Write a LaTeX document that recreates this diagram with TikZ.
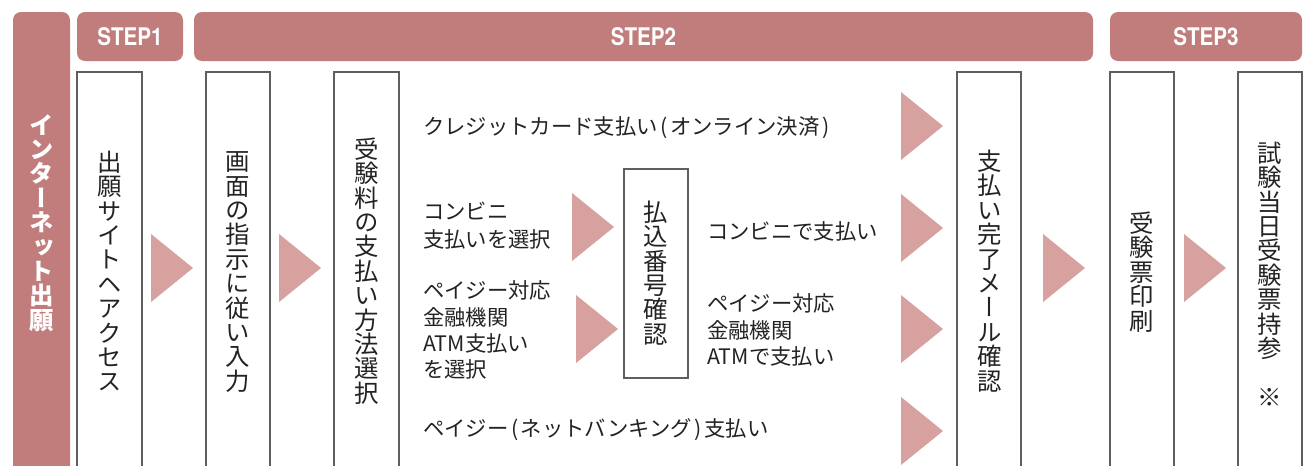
\documentclass[tikz,border=0pt]{standalone}
\usepackage{fontspec}
\newfontfamily\jp{Noto Sans CJK JP}
\newfontfamily\jpv[RawFeature=+vert]{Noto Sans CJK JP}
\newfontfamily\stepfnt[FakeStretch=0.85]{TeX Gyre Heros}
\definecolor{hdr}{RGB}{193,125,124}
\definecolor{tricol}{RGB}{214,161,159}
\definecolor{ink}{RGB}{35,35,35}
\definecolor{edge}{RGB}{95,95,95}
\newcommand\tri[2]{\fill[arrowtri] (#1,#2-34) -- (#1+42,#2) -- (#1,#2+34) -- cycle;}
\newcommand\lp{\hspace{0.12em}(\hspace{0.12em}}
\newcommand\rp{\hspace{0.12em})\hspace{0.12em}}
\begin{document}
\begin{tikzpicture}[x=0.75pt,y=-0.75pt,
  hdrbox/.style={fill=hdr, rounded corners=6pt},
  colbox/.style={draw=edge, line width=0.8pt, fill=white},
  arrowtri/.style={fill=tricol},
  vtext/.style={text=ink, font=\jpv\fontsize{18.3}{18.3}\selectfont, align=center, inner sep=0pt},
  vwhite/.style={text=white, font=\jpv\bfseries\fontsize{18.3}{18.3}\selectfont, align=center, inner sep=0pt},
  htext/.style={text=ink, anchor=west, inner sep=0pt, align=left, font=\jp\fontsize{16}{21}\selectfont},
  htextb/.style={htext, font=\jp\fontsize{16}{19.6}\selectfont},
  steptext/.style={text=white, font=\stepfnt\bfseries\fontsize{18.2}{20}\selectfont, inner sep=0pt}
]
\useasboundingbox (0,0) rectangle (1303,465);
\clip (0,0) rectangle (1303,465);
\fill[white] (0,0) rectangle (1303,465);

% left bar
\fill[hdr, rounded corners=6pt] (13,490) -- (13,12) -- (70,12) -- (70,490) -- cycle;
\node[vwhite] (inet) at (41.5,223) {イ\\ン\\タ\\ー\\ネ\\ッ\\ト\\出\\願};

% headers
\path[hdrbox] (77,12) rectangle (183,61);
\path[hdrbox] (194,12) rectangle (1093,61);
\path[hdrbox] (1110,12) rectangle (1302,61);
\node[steptext] (s1) at (130,36.5) {STEP1};
\node[steptext] (s2) at (643.5,36.5) {STEP2};
\node[steptext] (s3) at (1206,36.5) {STEP3};

% columns
\draw[colbox] (77,72) rectangle (142,490);
\draw[colbox] (206,72) rectangle (270,490);
\draw[colbox] (334,72) rectangle (399,490);
\draw[colbox] (957,72) rectangle (1021,490);
\draw[colbox] (1110,72) rectangle (1174,490);
\draw[colbox] (1238,72) rectangle (1302,490);
\draw[colbox] (624,169) rectangle (688,378);

\node[vtext] (c1) at (110,271) {出\\願\\サ\\イ\\ト\\ヘ\\ア\\ク\\セ\\ス};
\node[vtext] (c2) at (238,272) {画\\面\\の\\指\\示\\に\\従\\い\\入\\力};
\node[vtext] (c3) at (366.5,271) {受\\験\\料\\の\\支\\払\\い\\方\\法\\選\\択};
\node[vtext] (pay) at (656,273) {払\\込\\番\\号\\確\\認};
\node[vtext] (c4) at (989.5,271) {支\\払\\い\\完\\了\\メ\\ー\\ル\\確\\認};
\node[vtext] (c5) at (1142,272) {受\\験\\票\\印\\刷};
\node[vtext] (c6) at (1270,274) {試\\験\\当\\日\\受\\験\\票\\持\\参\\　\\※};

% horizontal texts
\node[htext] (credit) at (423,128) {クレジットカード支払い\lp オンライン決済\rp};
\node[htext] (conv) at (423,226) {コンビニ\\支払いを選択};
\node[htextb] (payeasyatm) at (423,330) {ペイジー対応\\金融機関\\ATM支払い\\を選択};
\node[htext] (net) at (423,430) {ペイジー\lp ネットバンキング\rp 支払い};
\node[htext] (convpay) at (707,231) {コンビニで支払い};
\node[htextb] (atmpay) at (707,330) {ペイジー対応\\金融機関\\ATMで支払い};

% triangles
\tri{151}{268}
\tri{279}{268}
\tri{572}{227}
\tri{576}{329}
\tri{901}{126}
\tri{901}{228}
\tri{901}{329}
\tri{901}{431}
\tri{1043}{268}
\tri{1184}{268}
\end{tikzpicture}
\end{document}
